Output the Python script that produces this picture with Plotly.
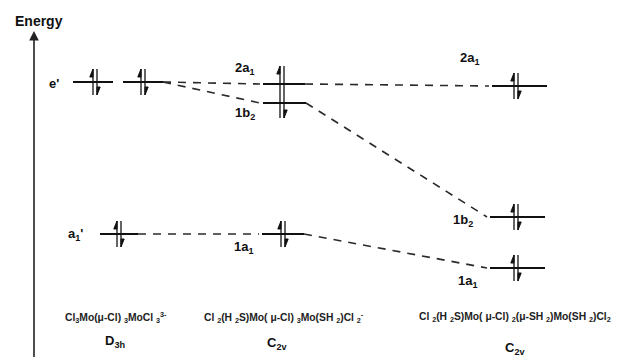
import plotly.graph_objects as go

# ---------------- data ----------------
# Orbital levels (column x-extent in diagram units, energy in arbitrary units)
level_names  = ["e'", "e'", "a1'", "2a1", "1b2", "1a1", "2a1", "1b2", "1a1"]
level_left   = [73, 123, 100, 263, 263, 262, 492, 490, 490]
level_right  = [113, 163, 138, 305, 306, 304, 547, 545, 545]
level_energy = [275, 275, 123, 273, 254, 123, 271, 140, 89]

# Correlation (dashed) lines: from level i (right end) to level j (left end)
corr_from = [1, 1, 3, 4, 2, 5]
corr_to   = [3, 4, 6, 7, 5, 8]

# Electron pairs: x position, centre energy, half length
pair_x      = [95, 143, 119, 282, 283, 516, 516, 516]
pair_energy = [275, 275, 123, 265, 123, 271, 140, 89]
pair_half   = [13, 13, 13, 26, 13, 13, 13, 13]

# Level labels
lab_text   = ["e'", "a<sub>1</sub>'", "2a<sub>1</sub>", "1b<sub>2</sub>", "1a<sub>1</sub>",
              "2a<sub>1</sub>", "1b<sub>2</sub>", "1a<sub>1</sub>"]
lab_x      = [54, 75, 245, 245, 244, 470, 463, 468]
lab_energy = [274, 123, 289, 244, 110, 299, 137, 76]

# Compound labels
comp_text = ["Cl<sub>3</sub>Mo(μ-Cl) <sub>3</sub>MoCl <sub>3</sub><sup>3-</sup>",
             "Cl <sub>2</sub>(H <sub>2</sub>S)Mo( μ-Cl) <sub>3</sub>Mo(SH <sub>2</sub>)Cl <sub>2</sub><sup>-</sup>",
             "Cl <sub>2</sub>(H <sub>2</sub>S)Mo( μ-Cl) <sub>2</sub>(μ-SH <sub>2</sub>)Mo(SH <sub>2</sub>)Cl<sub>2</sub>"]
comp_x    = [63, 202, 417]
sym_text  = ["D<sub>3h</sub>", "C<sub>2v</sub>", "C<sub>2v</sub>"]
sym_x     = [115, 277, 515]

# ---------------- figure ----------------
W, H = 622, 357
OFF = 8  # default page body margin
fig = go.Figure()
FONT = "Liberation Sans, Arial, Helvetica, sans-serif"

# dashed correlation lines
dx, dy = [], []
for i, j in zip(corr_from, corr_to):
    dx += [level_right[i], level_left[j] - 3, None]
    dy += [level_energy[i], level_energy[j], None]
fig.add_trace(go.Scatter(x=dx, y=dy, mode="lines",
                         line=dict(color="#2a2a2a", width=1.6, dash="8px,7px"),
                         hoverinfo="skip", showlegend=False))

# levels
lx, ly = [], []
for l, r, e in zip(level_left, level_right, level_energy):
    lx += [l, r, None]
    ly += [e, e, None]
fig.add_trace(go.Scatter(x=lx, y=ly, mode="lines",
                         line=dict(color="#111111", width=2.2),
                         hoverinfo="skip", showlegend=False))

# electron pairs: strokes + half arrow heads
sx, sy = [], []
tx, ty = [], []
for x, e, h in zip(pair_x, pair_energy, pair_half):
    xl, xr = x - 2, x + 2
    sx += [xl, xl, None, xr, xr, None]
    sy += [e - h, e + h, None, e - h, e + h, None]
    tx += [xl, xl - 3.2, xl, xl, None]
    ty += [e + h, e + h - 8, e + h - 8, e + h, None]
    tx += [xr, xr + 3.2, xr, xr, None]
    ty += [e - h, e - h + 8, e - h + 8, e - h, None]
fig.add_trace(go.Scatter(x=sx, y=sy, mode="lines",
                         line=dict(color="#111111", width=1.3),
                         hoverinfo="skip", showlegend=False))
fig.add_trace(go.Scatter(x=tx, y=ty, mode="lines", fill="toself",
                         fillcolor="#111111", line=dict(color="#111111", width=1),
                         hoverinfo="skip", showlegend=False))

# energy axis
fig.add_annotation(x=34, y=326, ax=34, ay=-5, xref="x", yref="y", axref="x", ayref="y",
                   showarrow=True, arrowhead=2, arrowsize=1.2, arrowwidth=1.6,
                   arrowcolor="#222222", text="")
fig.add_annotation(x=39, y=336, xref="x", yref="y", text="<b>Energy</b>", showarrow=False,
                   font=dict(family=FONT, size=14, color="#111111"))

# level labels
for t, x, e in zip(lab_text, lab_x, lab_energy):
    fig.add_annotation(x=x, y=e, xref="x", yref="y", text="<b>" + t + "</b>", showarrow=False,
                       font=dict(family=FONT, size=13, color="#111111"))

# compound labels
for t, x in zip(comp_text, comp_x):
    fig.add_annotation(x=x, y=40, xref="x", yref="y", text="<b>" + t + "</b>", showarrow=False,
                       xanchor="left", font=dict(family=FONT, size=10.3, color="#222222"))
sym_y = [16, 14, 9]
for t, x, yy in zip(sym_text, sym_x, sym_y):
    fig.add_annotation(x=x, y=yy, xref="x", yref="y", text="<b>" + t + "</b>", showarrow=False,
                       font=dict(family=FONT, size=13, color="#111111"))

fig.update_layout(width=W - OFF, height=H - OFF, margin=dict(l=0, r=0, t=0, b=0),
                  paper_bgcolor="white", plot_bgcolor="white",
                  xaxis=dict(range=[OFF, W], visible=False, fixedrange=True),
                  yaxis=dict(range=[0, H - OFF], visible=False, fixedrange=True),
                  showlegend=False)

fig.write_html("out.html")
